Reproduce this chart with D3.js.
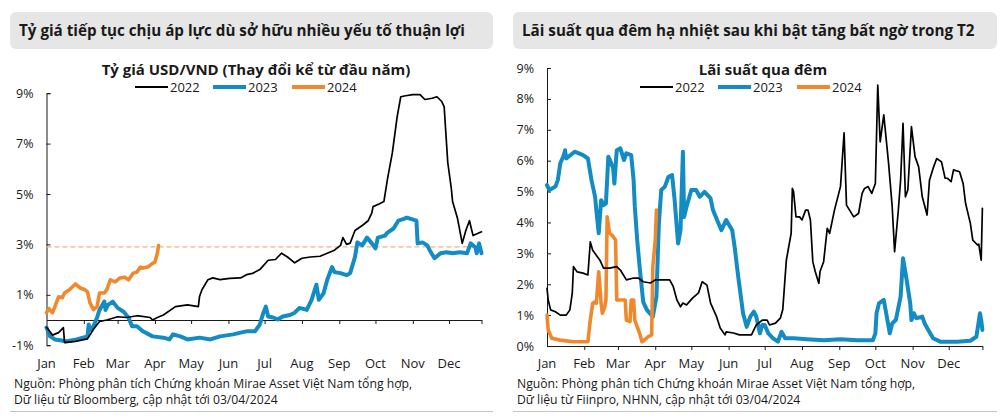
<!DOCTYPE html>
<html>
<head>
<meta charset="utf-8">
<script src="https://cdn.jsdelivr.net/npm/d3@7"></script>
<style>
  body { margin: 0; background: #fff; }
  svg text { font-family: "Open Sans", "Noto Sans", sans-serif; fill: #1a1a1a; }
</style>
</head>
<body>
<svg id="chart" width="1000" height="418"></svg>
<script>
// month labels, placed at the first day of each month (day of year)
const months = ["Jan", "Feb", "Mar", "Apr", "May", "Jun", "Jul", "Aug", "Sep", "Oct", "Nov", "Dec"];
const monthStarts = [0, 31, 59, 90, 120, 151, 181, 212, 243, 273, 304, 334];
const years = ["2022", "2023", "2024"];

// left panel: USD/VND change since start of year, [day, %]
const fx2022 = [[0,-0.29],[5,-0.6],[10,-0.5],[14,-0.3],[15,-0.9],[24,-0.85],[34,-0.75],[39,-0.37],[44,-0.06],[50,0.0],
  [59,0.13],[67,0.1],[75,0.17],[86,0.1],[88,0.0],[92,0.1],[97,0.2],[107,0.53],[117,0.6],[126,0.53],[127,0.93],[129,1.2],
  [134,1.6],[138,1.67],[144,1.6],[152,1.65],[161,1.67],[166,1.8],[171,1.85],[177,2.0],[184,2.37],[190,2.4],[195,2.65],
  [200,2.5],[206,2.27],[212,2.45],[219,2.5],[227,2.53],[233,2.65],[239,2.77],[244,2.96],[246,3.27],[249,3.0],[252,3.05],
  [256,3.55],[262,3.75],[267,3.94],[270,4.25],[271,4.5],[276,4.6],[280,4.7],[283,5.6],[287,6.63],[291,8.06],[294,8.86],
  [298,8.9],[304,8.94],[310,8.94],[314,8.75],[320,8.8],[324,8.86],[328,8.67],[330,8.47],[333,6.25],[336,5.2],[337,4.7],
  [341,4.05],[343,3.55],[345,3.04],[348,3.55],[351,3.94],[354,3.35],[361,3.5]];
const fx2023 = [[0,-0.3],[3,-0.65],[7,-0.77],[17,-0.84],[25,-0.77],[34,-0.65],[35,-0.18],[36,-0.4],[39,-0.25],[42,0.1],
  [44,0.4],[48,0.73],[49,0.4],[51,0.6],[55,0.73],[59,0.48],[64,0.33],[68,0.1],[71,-0.25],[75,-0.25],[80,-0.45],[88,-0.65],
  [97,-0.7],[102,-0.77],[105,-0.57],[111,-0.65],[117,-0.77],[127,-0.7],[136,-0.77],[144,-0.65],[155,-0.57],[161,-0.5],
  [166,-0.45],[173,-0.45],[177,-0.18],[180,0.29],[182,0.53],[184,0.14],[188,0.1],[192,0.02],[196,0.14],[202,0.2],[206,0.29],
  [210,0.48],[216,0.4],[220,0.8],[224,1.4],[226,0.8],[230,1.07],[233,1.6],[237,2.1],[239,1.9],[244,1.86],[249,1.78],
  [252,1.86],[256,2.5],[258,3.08],[262,2.96],[266,3.27],[270,3.04],[273,2.84],[275,3.27],[281,3.35],[283,3.47],[288,3.63],
  [292,3.94],[296,4.0],[299,4.06],[303,4.0],[307,3.94],[308,3.04],[312,3.08],[316,2.96],[318,2.77],[322,2.45],[327,2.65],
  [332,2.69],[337,2.65],[343,2.69],[349,2.65],[352,3.04],[356,2.88],[357,2.65],[359,3.04],[361,2.65]];
const fx2024 = [[0,0.29],[2,0.45],[5,0.29],[7,0.53],[10,0.92],[13,0.88],[15,1.07],[19,1.2],[24,1.43],[28,1.27],[32,1.2],
  [34,1.12],[36,0.69],[39,0.41],[42,0.53],[44,1.07],[48,1.07],[50,1.2],[53,1.59],[57,1.51],[61,1.67],[65,1.7],[68,1.59],
  [72,1.86],[75,1.9],[78,2.1],[80,2.06],[84,2.1],[88,2.25],[90,2.3],[92,2.65],[93,2.96]];
const fxLevel2024 = 2.9;

// right panel: overnight interbank rate, [day, %]
const on2022 = [[0,1.87],[1,1.49],[3,1.17],[7,1.11],[11,1.0],[16,1.0],[19,1.17],[21,1.7],[22,2.57],[25,2.4],[30,2.36],
  [34,2.3],[36,3.37],[38,3.1],[41,2.94],[44,2.78],[47,2.52],[52,2.52],[58,2.57],[61,2.46],[66,2.14],[72,2.2],[76,2.2],
  [80,2.08],[86,2.04],[90,2.14],[96,2.14],[102,2.14],[105,1.92],[108,1.49],[111,1.27],[113,1.39],[116,1.33],[121,1.55],
  [126,1.72],[129,2.08],[133,1.97],[136,1.39],[141,0.95],[144,0.58],[148,0.36],[149,0.46],[155,0.42],[160,0.36],[170,0.36],
  [174,0.68],[179,0.84],[183,0.84],[185,0.68],[190,0.74],[194,0.9],[196,1.17],[199,2.78],[203,3.65],[204,5.1],[205,5.0],
  [207,4.18],[210,4.18],[212,4.08],[215,4.4],[217,4.4],[219,4.08],[221,2.73],[223,2.41],[226,2.03],[227,2.41],[230,2.73],
  [233,3.81],[235,3.65],[239,4.4],[244,5.16],[247,6.9],[249,4.56],[255,4.18],[259,4.29],[262,4.94],[264,5.1],[267,5.16],
  [270,4.94],[273,5.26],[275,8.45],[277,6.61],[280,7.48],[284,5.91],[287,4.51],[289,3.05],[292,4.35],[294,5.37],[296,7.21],
  [298,4.83],[300,5.05],[303,7.1],[306,6.13],[309,5.8],[312,4.83],[316,4.24],[318,5.37],[321,5.75],[324,6.07],[328,5.96],
  [331,5.43],[333,5.43],[336,5.32],[338,5.7],[343,5.64],[346,5.26],[348,4.62],[352,3.97],[354,3.43],[358,3.27],[359,3.3],
  [361,2.78],[362,4.46]];
const on2023 = [[0,5.21],[2,5.05],[7,5.16],[9,5.37],[11,5.91],[14,6.18],[15,6.34],[16,6.07],[23,6.29],[30,6.18],[34,6.07],
  [37,5.37],[40,4.83],[41,4.4],[43,3.65],[45,4.72],[47,4.56],[49,4.62],[51,6.13],[53,5.96],[55,5.75],[56,5.26],[58,6.34],
  [61,6.4],[64,6.02],[66,6.24],[70,6.18],[72,5.37],[73,4.51],[75,3.43],[77,2.57],[80,1.43],[83,1.17],[88,0.95],[91,1.6],
  [93,3.97],[95,5.05],[98,5.16],[101,5.48],[104,5.53],[106,4.78],[109,3.32],[111,3.75],[113,6.29],[114,4.18],[116,4.51],
  [120,5.05],[124,5.05],[127,4.83],[131,4.99],[136,4.78],[138,4.4],[142,4.02],[145,3.75],[149,4.08],[154,3.75],[156,3.21],
  [159,2.24],[163,1.06],[166,0.62],[169,0.95],[172,1.11],[174,0.95],[177,0.41],[179,0.68],[181,0.68],[184,0.41],[188,0.25],
  [192,0.14],[195,0.46],[198,0.25],[205,0.25],[216,0.22],[230,0.19],[244,0.22],[258,0.19],[271,0.19],[273,0.41],[274,1.06],
  [276,1.38],[280,1.49],[282,1.06],[285,0.41],[287,0.73],[290,0.84],[294,1.6],[296,2.84],[299,2.14],[302,1.38],[303,0.84],
  [305,1.06],[307,0.9],[312,0.95],[314,0.73],[317,0.52],[321,0.25],[327,0.14],[341,0.14],[352,0.17],[357,0.3],[360,1.06],
  [361,0.84],[362,0.52]];
const on2024 = [[0,1.0],[1,0.52],[4,0.25],[11,0.19],[22,0.14],[34,0.14],[36,0.84],[38,1.38],[40,1.43],[41,1.38],[43,2.4],
  [44,1.92],[45,1.38],[46,1.06],[48,1.27],[49,1.49],[50,4.18],[52,3.65],[54,3.59],[57,3.43],[58,1.49],[61,1.49],[65,1.49],
  [66,0.84],[69,0.79],[70,1.49],[72,1.49],[73,0.84],[75,0.62],[77,0.41],[79,0.14],[81,0.19],[84,0.3],[87,0.36],[88,2.57],
  [90,3.43],[91,4.4]];

const fxTicks = [-1, 1, 3, 5, 7, 9];
const onTicks = [0, 1, 2, 3, 4, 5, 6, 7, 8, 9];

const colors = { "2022": "#000000", "2023": "#138bc3", "2024": "#f0892d" };
const widths = { "2022": 1.7, "2023": 4, "2024": 3.6 };

const svg = d3.select("#chart");

function drawPanel(p) {
    let g = svg.append("g");

    // header box
    g.append("rect")
        .attr("x", p.box[0]).attr("y", 12)
        .attr("width", p.box[1] - p.box[0]).attr("height", 37)
        .attr("rx", 6)
        .attr("fill", "#e6e6e6");
    g.append("text")
        .attr("x", p.box[0] + 9).attr("y", 36)
        .style("font-size", "15.2px").style("font-weight", "bold")
        .text(p.header);

    g.append("text")
        .attr("x", p.titleX).attr("y", 75)
        .attr("text-anchor", "middle")
        .style("font-size", "15px").style("font-weight", "bold")
        .text(p.title);

    // legend
    let leg = g.selectAll(".leg").data(years).enter().append("g")
        .attr("transform", function (d, i) { return "translate(" + p.legendX[i] + ",87)"; });
    leg.append("line")
        .attr("x1", 0).attr("x2", 33)
        .attr("stroke", function (d) { return colors[d]; })
        .attr("stroke-width", function (d) { return d === "2022" ? 2 : 4; });
    leg.append("text")
        .attr("x", 35).attr("y", 4.5)
        .style("font-size", "13px")
        .text(function (d) { return d; });

    let x = d3.scaleLinear().domain([0, p.lastDay]).range(p.xRange);
    let y = d3.scaleLinear().domain(p.yDomain).range(p.yRange);

    // y axis, ticks pointing inwards
    let yAxis = g.append("g")
        .attr("transform", "translate(" + p.xRange[0] + ",0)")
        .call(d3.axisLeft(y).tickValues(p.yTicks).tickSize(-4).tickPadding(13)
            .tickFormat(function (d) { return d + "%"; }));
    yAxis.selectAll("text").style("font-size", "12.5px").style("font-family", "'Open Sans', sans-serif").attr("fill", "#1a1a1a");
    yAxis.selectAll("line, path").attr("stroke", "#1a1a1a");

    // x axis on the zero line
    let xAxis = g.append("g")
        .attr("transform", "translate(0," + y(0) + ")")
        .call(d3.axisBottom(x).tickValues(monthStarts.slice(1).concat([p.lastDay]))
            .tickSize(4).tickSizeOuter(0).tickFormat(""));
    xAxis.selectAll("line, path").attr("stroke", "#1a1a1a");

    g.selectAll(".month").data(months).enter().append("text")
        .attr("x", function (d, i) { return x(monthStarts[i]); })
        .attr("y", 368)
        .attr("text-anchor", "middle")
        .style("font-size", "13px")
        .text(function (d) { return d; });

    if (p.level !== undefined) {
        g.append("line")
            .attr("x1", x(0)).attr("x2", x(p.lastDay))
            .attr("y1", y(p.level)).attr("y2", y(p.level))
            .attr("stroke", "#f4b183").attr("stroke-width", 1.3)
            .attr("stroke-dasharray", "5,3");
    }

    let line = d3.line()
        .x(function (d) { return x(d[0]); })
        .y(function (d) { return y(d[1]); });

    // draw order: 2023, 2024, then 2022 on top
    [["2023", p.series[1]], ["2024", p.series[2]], ["2022", p.series[0]]].forEach(function (s) {
        g.append("path")
            .datum(s[1])
            .attr("d", line)
            .attr("fill", "none")
            .attr("stroke", colors[s[0]])
            .attr("stroke-width", widths[s[0]])
            .attr("stroke-linejoin", "round")
            .attr("stroke-linecap", "round");
    });

    // source note
    g.selectAll(".src").data(p.source).enter().append("text")
        .attr("x", p.box[0] + 4)
        .attr("y", function (d, i) { return 387.5 + i * 16; })
        .style("font-size", "12.2px")
        .text(function (d) { return d; });

    g.append("line")
        .attr("x1", p.box[0]).attr("x2", p.box[1])
        .attr("y1", 411.5).attr("y2", 411.5)
        .attr("stroke", "#c4c4c4").attr("stroke-width", 1);
}

drawPanel({
    box: [10, 493],
    header: "Tỷ giá tiếp tục chịu áp lực dù sở hữu nhiều yếu tố thuận lợi",
    title: "Tỷ giá USD/VND (Thay đổi kể từ đầu năm)",
    titleX: 256,
    legendX: [135, 213, 292],
    xRange: [46.5, 481.5],
    lastDay: 361,
    yDomain: [-1, 9],
    yRange: [345.2, 93.2],
    yTicks: fxTicks,
    series: [fx2022, fx2023, fx2024],
    level: fxLevel2024,
    source: ["Nguồn: Phòng phân tích Chứng khoán Mirae Asset Việt Nam tổng hợp,",
             "Dữ liệu từ Bloomberg, cập nhật tới 03/04/2024"]
});

drawPanel({
    box: [513, 997],
    header: "Lãi suất qua đêm hạ nhiệt sau khi bật tăng bất ngờ trong T2",
    title: "Lãi suất qua đêm",
    titleX: 763,
    legendX: [640, 718, 797],
    xRange: [547, 982.4],
    lastDay: 362,
    yDomain: [0, 9],
    yRange: [346, 68],
    yTicks: onTicks,
    series: [on2022, on2023, on2024],
    source: ["Nguồn: Phòng phân tích Chứng khoán Mirae Asset Việt Nam tổng hợp,",
             "Dữ liệu từ Fiinpro, NHNN, cập nhật tới 03/04/2024"]
});
</script>
</body>
</html>
